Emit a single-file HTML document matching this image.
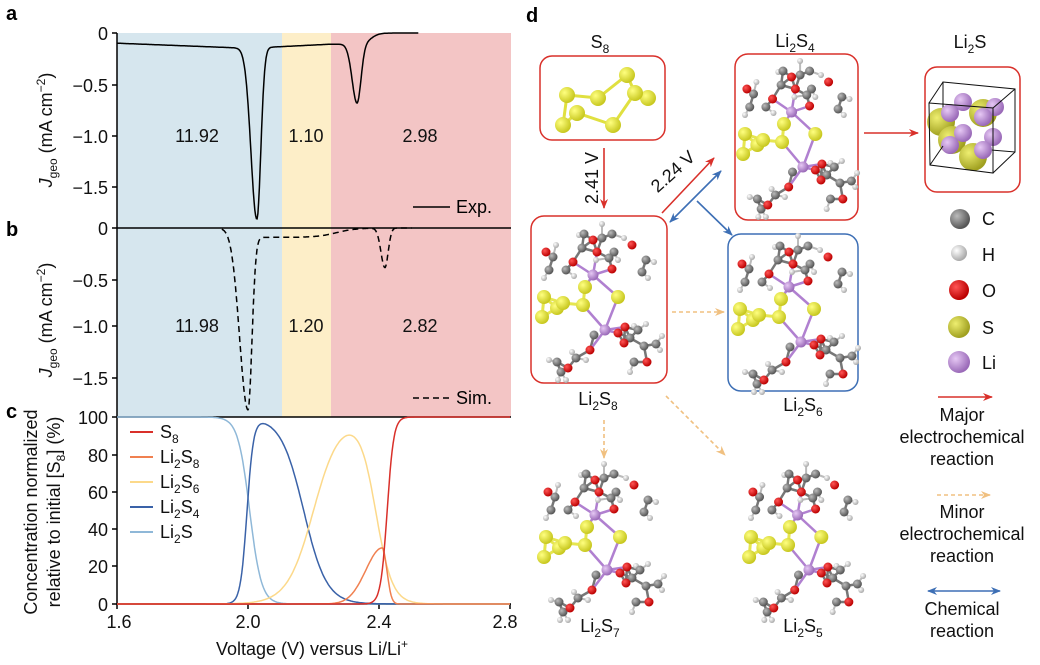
<!DOCTYPE html>
<html><head><meta charset="utf-8"><style>
html,body{margin:0;padding:0;background:#fff}
svg{display:block;font-family:"Liberation Sans",Arial,sans-serif}
</style></head><body>
<svg id="s" width="1040" height="665" viewBox="0 0 1040 665" xmlns="http://www.w3.org/2000/svg">
<defs>
<radialGradient id="gC" cx="35%" cy="35%" r="65%"><stop offset="0" stop-color="#bbb"/><stop offset="1" stop-color="#555"/></radialGradient>
<radialGradient id="gH" cx="35%" cy="35%" r="65%"><stop offset="0" stop-color="#fff"/><stop offset="1" stop-color="#aaa"/></radialGradient>
<radialGradient id="gO" cx="35%" cy="35%" r="65%"><stop offset="0" stop-color="#f55"/><stop offset="1" stop-color="#b00"/></radialGradient>
<radialGradient id="gS" cx="35%" cy="35%" r="65%"><stop offset="0" stop-color="#ffff80"/><stop offset="1" stop-color="#c8c820"/></radialGradient>
<radialGradient id="gS2" cx="35%" cy="35%" r="65%"><stop offset="0" stop-color="#eeee70"/><stop offset="1" stop-color="#a0a020"/></radialGradient>
<radialGradient id="gL" cx="35%" cy="35%" r="65%"><stop offset="0" stop-color="#e6c8f4"/><stop offset="1" stop-color="#9a6ab8"/></radialGradient>
<marker id="mr" markerWidth="10" markerHeight="8" refX="9" refY="4" orient="auto" markerUnits="userSpaceOnUse"><path d="M0,0 L10,4 L0,8 L3,4z" fill="#d9302a"/></marker>
<marker id="mb" markerWidth="10" markerHeight="8" refX="9" refY="4" orient="auto-start-reverse" markerUnits="userSpaceOnUse"><path d="M0,0 L10,4 L0,8 L3,4z" fill="#3d6fb5"/></marker>
<marker id="mo" markerWidth="10" markerHeight="8" refX="9" refY="4" orient="auto" markerUnits="userSpaceOnUse"><path d="M0,0 L10,4 L0,8 L3,4z" fill="#f0c080"/></marker>
</defs>
<rect x="117" y="33" width="165" height="384" fill="#d6e6ee"/>
<rect x="282" y="33" width="49" height="384" fill="#fdeec8"/>
<rect x="331" y="33" width="180" height="384" fill="#f3c5c5"/>
<rect x="117" y="417" width="394" height="187" fill="#fff"/>
<g stroke="#000" stroke-width="1.5" fill="none">
<line x1="117" y1="33" x2="117" y2="605"/>
<line x1="117" y1="228" x2="511" y2="228"/>
<line x1="117" y1="417" x2="511" y2="417"/>
<line x1="117" y1="604" x2="511" y2="604"/>
<line x1="112" y1="33" x2="117" y2="33"/><line x1="112" y1="85" x2="117" y2="85"/><line x1="112" y1="136" x2="117" y2="136"/><line x1="112" y1="187" x2="117" y2="187"/>
<line x1="112" y1="228" x2="117" y2="228"/><line x1="112" y1="280" x2="117" y2="280"/><line x1="112" y1="326" x2="117" y2="326"/><line x1="112" y1="378" x2="117" y2="378"/>
<line x1="112" y1="417" x2="117" y2="417"/><line x1="112" y1="455" x2="117" y2="455"/><line x1="112" y1="492" x2="117" y2="492"/><line x1="112" y1="529" x2="117" y2="529"/><line x1="112" y1="566" x2="117" y2="566"/><line x1="112" y1="604" x2="117" y2="604"/>
<line x1="117" y1="604" x2="117" y2="609"/><line x1="248" y1="604" x2="248" y2="609"/><line x1="379" y1="604" x2="379" y2="609"/><line x1="510" y1="604" x2="510" y2="609"/>
</g>
<g font-size="18" text-anchor="end" fill="#111">
<text x="108" y="40">0</text><text x="108" y="92">−0.5</text><text x="108" y="143">−1.0</text><text x="108" y="194">−1.5</text>
<text x="108" y="235">0</text><text x="108" y="287">−0.5</text><text x="108" y="333">−1.0</text><text x="108" y="385">−1.5</text>
<text x="108" y="424">100</text><text x="108" y="462">80</text><text x="108" y="499">60</text><text x="108" y="536">40</text><text x="108" y="573">20</text><text x="108" y="611">0</text>
</g>
<g font-size="18" text-anchor="middle" fill="#111">
<text x="119" y="628">1.6</text><text x="248" y="628">2.0</text><text x="379" y="628">2.4</text><text x="505" y="628">2.8</text>
<text x="312" y="655">Voltage (V) versus Li/Li<tspan font-size="12" dy="-7">+</tspan></text>
<text x="197" y="142">11.92</text><text x="306" y="142">1.10</text><text x="420" y="142">2.98</text>
<text x="197" y="332">11.98</text><text x="306" y="332">1.20</text><text x="420" y="332">2.82</text>
</g>
<g font-weight="bold" font-size="20" fill="#000">
<text x="6" y="20">a</text><text x="6" y="236">b</text><text x="6" y="418">c</text><text x="526" y="22">d</text>
</g>
<g font-size="18" fill="#111" text-anchor="middle">
<text transform="translate(52,130) rotate(-90)"><tspan font-style="italic">J</tspan><tspan font-size="12" dy="5">geo</tspan><tspan dy="-5"> (mA cm</tspan><tspan font-size="12" dy="-7">−2</tspan><tspan dy="7">)</tspan></text>
<text transform="translate(52,320) rotate(-90)"><tspan font-style="italic">J</tspan><tspan font-size="12" dy="5">geo</tspan><tspan dy="-5"> (mA cm</tspan><tspan font-size="12" dy="-7">−2</tspan><tspan dy="7">)</tspan></text>
<text transform="translate(37,512) rotate(-90)">Concentration normalized</text>
<text transform="translate(60,512) rotate(-90)">relative to initial [S<tspan font-size="12" dy="5">8</tspan><tspan dy="-5">] (%)</tspan></text>
</g>
<line x1="413" y1="207" x2="450" y2="207" stroke="#000" stroke-width="1.5"/>
<text x="456" y="213" font-size="18">Exp.</text>
<line x1="413" y1="398" x2="450" y2="398" stroke="#000" stroke-width="1.5" stroke-dasharray="6,4"/>
<text x="456" y="404" font-size="18">Sim.</text>
<g id="curves" fill="none" stroke-width="1.5"></g>
<g stroke-width="2">
<line x1="130" y1="432" x2="153" y2="432" stroke="#d9302a"/>
<line x1="130" y1="457" x2="153" y2="457" stroke="#f08050"/>
<line x1="130" y1="482" x2="153" y2="482" stroke="#fcd98a"/>
<line x1="130" y1="507" x2="153" y2="507" stroke="#3a62a8"/>
<line x1="130" y1="532" x2="153" y2="532" stroke="#8fb8d8"/>
</g>
<g font-size="18" fill="#111">
<text x="160" y="438">S<tspan font-size="12" dy="5">8</tspan></text>
<text x="160" y="463">Li<tspan font-size="12" dy="5">2</tspan><tspan dy="-5">S</tspan><tspan font-size="12" dy="5">8</tspan></text>
<text x="160" y="488">Li<tspan font-size="12" dy="5">2</tspan><tspan dy="-5">S</tspan><tspan font-size="12" dy="5">6</tspan></text>
<text x="160" y="513">Li<tspan font-size="12" dy="5">2</tspan><tspan dy="-5">S</tspan><tspan font-size="12" dy="5">4</tspan></text>
<text x="160" y="538">Li<tspan font-size="12" dy="5">2</tspan><tspan dy="-5">S</tspan></text>
</g>
<g fill="none" stroke-width="1.5">
<rect x="540" y="56" width="125" height="84" rx="12" stroke="#d9302a"/>
<rect x="735" y="54" width="123" height="166" rx="13" stroke="#d9302a"/>
<rect x="925" y="67" width="95" height="125" rx="12" stroke="#d9302a"/>
<rect x="531" y="216" width="136" height="167" rx="13" stroke="#d9302a"/>
<rect x="728" y="234" width="130" height="157" rx="13" stroke="#3d6fb5"/>
</g>
<g font-size="18" fill="#111" text-anchor="middle">
<text x="600" y="48">S<tspan font-size="12" dy="5">8</tspan></text>
<text x="795" y="47">Li<tspan font-size="12" dy="5">2</tspan><tspan dy="-5">S</tspan><tspan font-size="12" dy="5">4</tspan></text>
<text x="970" y="48">Li<tspan font-size="12" dy="5">2</tspan><tspan dy="-5">S</tspan></text>
<text x="598" y="405">Li<tspan font-size="12" dy="5">2</tspan><tspan dy="-5">S</tspan><tspan font-size="12" dy="5">8</tspan></text>
<text x="803" y="411">Li<tspan font-size="12" dy="5">2</tspan><tspan dy="-5">S</tspan><tspan font-size="12" dy="5">6</tspan></text>
<text x="600" y="632">Li<tspan font-size="12" dy="5">2</tspan><tspan dy="-5">S</tspan><tspan font-size="12" dy="5">7</tspan></text>
<text x="803" y="632">Li<tspan font-size="12" dy="5">2</tspan><tspan dy="-5">S</tspan><tspan font-size="12" dy="5">5</tspan></text>
<text x="962" y="421">Major</text><text x="962" y="443">electrochemical</text><text x="962" y="465">reaction</text>
<text x="962" y="518">Minor</text><text x="962" y="540">electrochemical</text><text x="962" y="562">reaction</text>
<text x="962" y="615">Chemical</text><text x="962" y="637">reaction</text>
<text transform="translate(598,178) rotate(-90)">2.41 V</text>
<text transform="translate(677,176) rotate(-42)">2.24 V</text>
</g>
<g font-size="18" fill="#111">
<text x="982" y="225">C</text><text x="982" y="261">H</text><text x="982" y="297">O</text><text x="982" y="334">S</text><text x="982" y="369">Li</text>
</g>
<circle cx="960" cy="219" r="10" fill="url(#gC)"/>
<circle cx="959" cy="253" r="8" fill="url(#gH)"/>
<circle cx="959" cy="290" r="10" fill="url(#gO)"/>
<circle cx="959" cy="327" r="11" fill="url(#gS2)"/>
<circle cx="959" cy="362" r="11" fill="url(#gL)"/>
<g stroke-width="1.6" fill="none">
<line x1="604" y1="148" x2="604" y2="208" stroke="#d9302a" marker-end="url(#mr)"/>
<line x1="662" y1="213" x2="714" y2="158" stroke="#d9302a" marker-end="url(#mr)"/>
<line x1="670" y1="222" x2="721" y2="171" stroke="#3d6fb5" marker-start="url(#mb)" marker-end="url(#mb)"/>
<line x1="697" y1="201" x2="732" y2="235" stroke="#3d6fb5" marker-end="url(#mb)"/>
<line x1="864" y1="133" x2="918" y2="133" stroke="#d9302a" marker-end="url(#mr)"/>
<line x1="672" y1="312" x2="724" y2="312" stroke="#f0c080" stroke-dasharray="4,3" marker-end="url(#mo)"/>
<line x1="604" y1="420" x2="604" y2="458" stroke="#f0c080" stroke-dasharray="4,3" marker-end="url(#mo)"/>
<line x1="666" y1="396" x2="725" y2="455" stroke="#f0c080" stroke-dasharray="4,3" marker-end="url(#mo)"/>
<line x1="938" y1="397" x2="992" y2="397" stroke="#d9302a" marker-end="url(#mr)"/>
<line x1="937" y1="495" x2="990" y2="495" stroke="#f0c080" stroke-dasharray="4,3" marker-end="url(#mo)"/>
<line x1="928" y1="591" x2="1000" y2="591" stroke="#3d6fb5" marker-start="url(#mb)" marker-end="url(#mb)"/>
</g>
<polygon points="567,95 598,98 627,75 635,93 613,125 577,113 563,125 567,95" fill="none" stroke="#e0e040" stroke-width="3"/>
<line x1="635" y1="93" x2="648" y2="98" stroke="#e0e040" stroke-width="3"/>
<g fill="url(#gS)">
<circle cx="627" cy="75" r="8"/><circle cx="648" cy="98" r="8"/><circle cx="635" cy="93" r="8"/><circle cx="598" cy="98" r="8"/><circle cx="567" cy="95" r="8"/><circle cx="577" cy="113" r="8"/><circle cx="563" cy="125" r="8"/><circle cx="613" cy="125" r="8"/>
</g>
<g fill="none" stroke="#111" stroke-width="1">
<polygon points="943,82 1015,89 1015,152 943,146"/>
</g>
<g>
<circle cx="941" cy="122" r="14" fill="url(#gS2)"/><circle cx="983" cy="113" r="14" fill="url(#gS2)"/><circle cx="952" cy="140" r="14" fill="url(#gS2)"/><circle cx="973" cy="157" r="14" fill="url(#gS2)"/>
<circle cx="963" cy="102" r="9" fill="url(#gL)"/><circle cx="995" cy="107" r="9" fill="url(#gL)"/><circle cx="950" cy="113" r="9" fill="url(#gL)"/><circle cx="983" cy="117" r="9" fill="url(#gL)"/>
<circle cx="963" cy="133" r="9" fill="url(#gL)"/><circle cx="993" cy="137" r="9" fill="url(#gL)"/><circle cx="950" cy="145" r="9" fill="url(#gL)"/><circle cx="983" cy="150" r="9" fill="url(#gL)"/>
</g>
<g fill="none" stroke="#111" stroke-width="1">
<polygon points="929,103 993,108 993,173 930,165"/>
<line x1="929" y1="103" x2="943" y2="82"/><line x1="993" y1="108" x2="1015" y2="89"/><line x1="993" y1="173" x2="1015" y2="152"/><line x1="930" y1="165" x2="943" y2="146"/>
</g>
<g id="mols"></g>
</svg>
<script>
(function(){
var NS="http://www.w3.org/2000/svg";
function sg(v){return 1/(1+Math.exp(-v));}
function X(v){return 117+(v-1.6)*327.5;}
function path(f,v0,v1,yf,col,dash){
 var d="",n=400;
 for(var i=0;i<=n;i++){var v=v0+(v1-v0)*i/n;var y=yf(f(v));d+=(i?"L":"M")+X(v).toFixed(1)+","+y.toFixed(1);}
 var p=document.createElementNS(NS,"path");p.setAttribute("d",d);p.setAttribute("stroke",col);
 if(dash)p.setAttribute("stroke-dasharray",dash);
 document.getElementById("curves").appendChild(p);
}
function ag(v,c,sl,sr){var s=v<c?sl:sr;return Math.exp(-(v-c)*(v-c)/(2*s*s));}
path(function(v){
 var base=-0.1-0.05*Math.min(1,(v-1.6)/0.4);
 if(v>2.0) base=-0.15+0.04*Math.min(1,(v-2.0)/0.25);
 base=base*(1-sg((v-2.375)/0.012));
 return base-1.68*ag(v,2.027,0.018,0.012)-0.58*ag(v,2.333,0.015,0.012);
},1.6,2.52,function(j){return 33-j*102;},"#000");
path(function(v){
 var base=-0.09*(1-sg((v-2.27)/0.03))*sg((v-1.96)/0.01);
 return base-1.66*ag(v,2.0,0.025,0.012)-0.38*ag(v,2.418,0.012,0.01);
},1.92,2.5,function(j){return 228-j*104;},"#000","6,4");
var yc=function(c){return 604-c*1.87;};
path(function(v){return 100*(1-sg((v-2.005)/0.018));},1.6,2.8,yc,"#8fb8d8");
path(function(v){return 100*sg((v-1.997)/0.01)*(1-sg((v-2.17)/0.035));},1.6,2.8,yc,"#3a62a8");
path(function(v){return 100*sg((v-2.2)/0.04)*(1-sg((v-2.39)/0.025));},1.6,2.8,yc,"#fcd98a");
path(function(v){return 30*ag(v,2.41,0.05,0.014);},1.6,2.8,yc,"#f08050");
path(function(v){return 100*sg((v-2.425)/0.01);},1.6,2.8,yc,"#d9302a");
var L=[[-11,-25],[1,30]];
var S=[[-60,-3],[-47,8],[-62,17],[-41,3],[-21,5],[-19,-13],[14,-3]];
var O=[[-58,-48],[-31,-38],[-11,-60],[-7,-48],[8,-31],[28,-55],[-14,50],[-36,68],[14,33],[20,43],[43,62],[21,27]];
var C=[[-51,-43],[-55,-30],[-38,-30],[-22,-52],[-2,-62],[10,-48],[5,-42],[42,-40],[38,-28],[-20,-66],[8,-66],[-28,58],[-47,62],[-43,72],[26,38],[34,30],[40,46],[52,44],[30,62],[-10,35]];
var H=[[-48,-55],[-60,-22],[-30,-24],[-25,-65],[-2,-76],[14,-40],[50,-38],[44,-22],[-32,52],[-55,60],[-46,80],[-38,80],[30,26],[42,24],[58,36],[56,50],[26,72],[-18,60],[20,-62],[-8,-40]];
var g=document.getElementById("mols");
function el(t,a){var e=document.createElementNS(NS,t);for(var k in a)e.setAttribute(k,a[k]);g.appendChild(e);return e;}
function d2(a,b){return Math.hypot(a[0]-b[0],a[1]-b[1]);}
function mol(cx,cy,sx){
 function P(p){return [cx+p[0]*sx,cy+p[1]];}
 var heavy=C.concat(O);
 H.forEach(function(h){var best=null,bd=1e9;C.forEach(function(c){var d=d2(h,c);if(d<bd){bd=d;best=c;}});var a=P(h),b=P(best);el("line",{x1:a[0],y1:a[1],x2:b[0],y2:b[1],stroke:"#bbb","stroke-width":2});});
 for(var i=0;i<heavy.length;i++)for(var j=i+1;j<heavy.length;j++){if(d2(heavy[i],heavy[j])<17){var a=P(heavy[i]),b=P(heavy[j]);el("line",{x1:a[0],y1:a[1],x2:b[0],y2:b[1],stroke:"#777","stroke-width":2.5});}}
 for(var i=0;i<S.length;i++)for(var j=i+1;j<S.length;j++){if(d2(S[i],S[j])<24){var a=P(S[i]),b=P(S[j]);el("line",{x1:a[0],y1:a[1],x2:b[0],y2:b[1],stroke:"#e6e650","stroke-width":3});}}
 [[L[0],O[1]],[L[0],O[3]],[L[0],O[4]],[L[0],S[5]],[L[0],S[6]],[L[1],O[6]],[L[1],O[8]],[L[1],O[11]],[L[1],S[6]],[L[1],S[4]]].forEach(function(pr){var a=P(pr[0]),b=P(pr[1]);el("line",{x1:a[0],y1:a[1],x2:b[0],y2:b[1],stroke:"#b080d0","stroke-width":2.5});});
 H.forEach(function(p){var a=P(p);el("circle",{cx:a[0],cy:a[1],r:3,fill:"url(#gH)"});});
 C.forEach(function(p){var a=P(p);el("circle",{cx:a[0],cy:a[1],r:4.5,fill:"url(#gC)"});});
 O.forEach(function(p){var a=P(p);el("circle",{cx:a[0],cy:a[1],r:4.5,fill:"url(#gO)"});});
 S.forEach(function(p){var a=P(p);el("circle",{cx:a[0],cy:a[1],r:7,fill:"url(#gS)"});});
 L.forEach(function(p){var a=P(p);el("circle",{cx:a[0],cy:a[1],r:5.5,fill:"url(#gL)"});});
}
mol(604,300,1);
mol(802,137,0.95);
mol(800,312,1);
mol(606,540,1);
mol(808,540,0.95);
})();
</script>
</body></html>
